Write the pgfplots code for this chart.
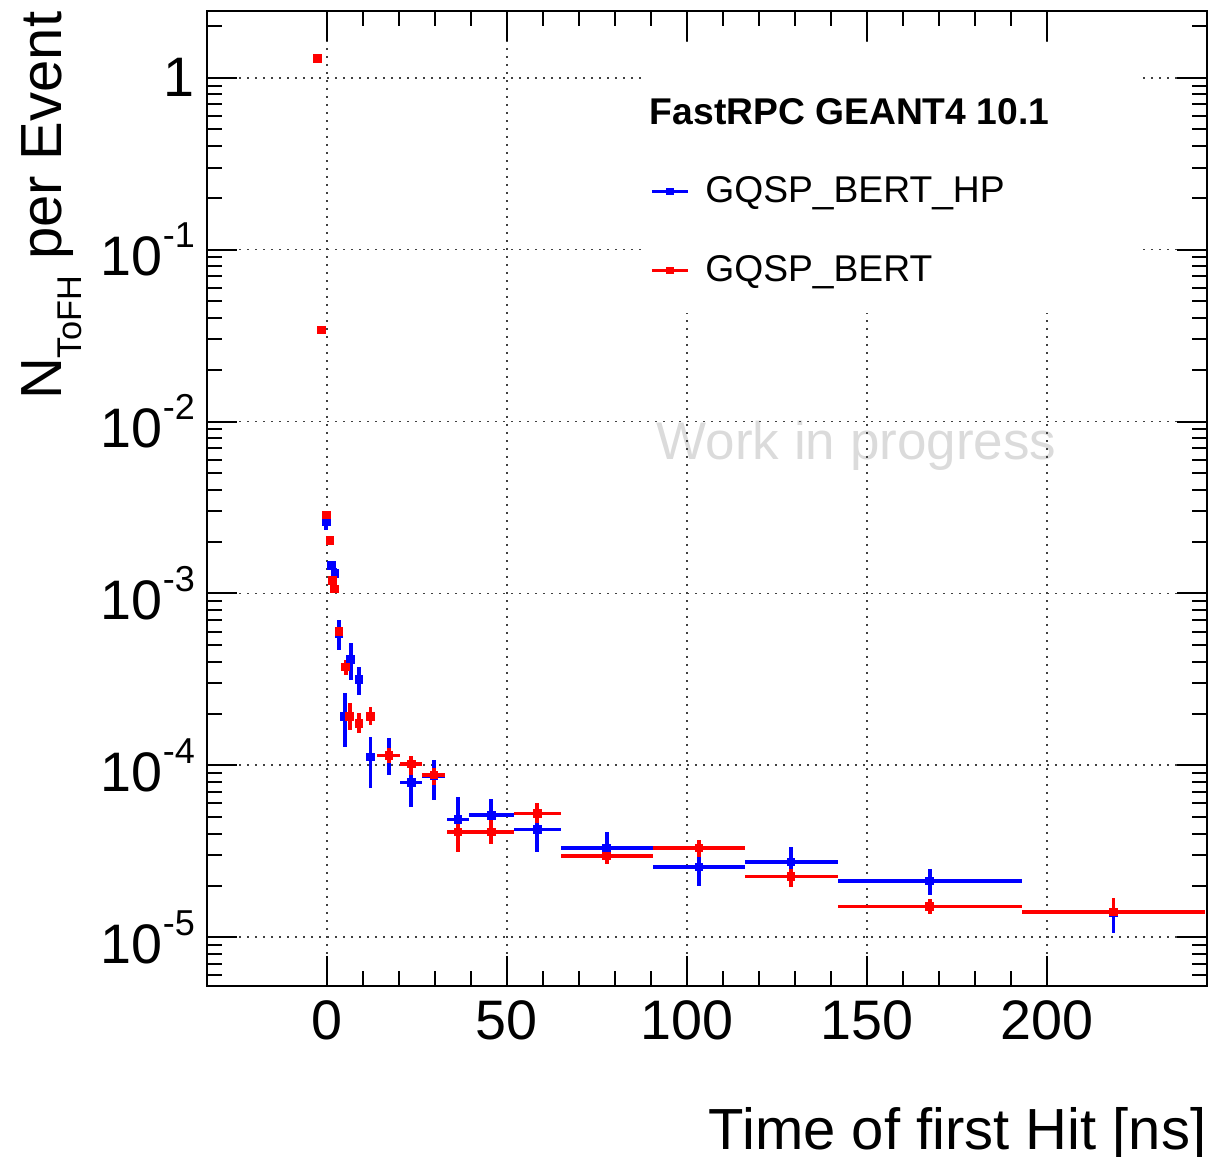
\documentclass[border=0pt]{standalone}
\usepackage{fontspec}
\setmainfont{Liberation Sans}
\usepackage{pgfplots}
\pgfplotsset{compat=1.18}
\usepackage{pgfplotstable}

\definecolor{rootblue}{RGB}{0,0,255}
\definecolor{rootred}{RGB}{255,0,0}

% Time of first hit per event: x = bin centre [ns], y = N per event,
% xlo/xhi = half bin widths, ylo/yhi = statistical errors
\pgfplotstableread{
x      y        xlo   xhi   ylo      yhi
-0.1   2.61e-3  0     0     0.27e-3  0.29e-3
1.4    1.45e-3  0     0     0.08e-3  0.09e-3
2.3    1.30e-3  0     0     0.09e-3  0.10e-3
3.4    5.86e-4  0     0     1.17e-4  1.14e-4
5.0    1.93e-4  0     0     0.65e-4  0.70e-4
6.7    4.13e-4  0     0     1.00e-4  1.02e-4
9.0    3.16e-4  0     0     0.60e-4  0.58e-4
12.2   1.12e-4  0     0     0.38e-4  0.35e-4
17.3   1.14e-4  3.2   3.1   0.26e-4  0.30e-4
23.5   7.95e-5  3.0   3.1   2.21e-5  2.65e-5
29.8   8.65e-5  3.2   3.2   2.37e-5  2.05e-5
36.5   4.84e-5  3.0   3.0   1.63e-5  1.72e-5
45.7   5.13e-5  6.2   6.3   0.93e-5  1.27e-5
58.5   4.23e-5  6.5   6.5   1.09e-5  1.41e-5
77.8   3.31e-5  12.8  12.7  0.61e-5  0.78e-5
103.4  2.56e-5  12.9  12.8  0.58e-5  0.38e-5
129.0  2.74e-5  12.8  13.0  0.50e-5  0.62e-5
167.5  2.12e-5  25.5  25.5  0.36e-5  0.39e-5
218.5  1.39e-5  25.5  25.5  0.33e-5  0.30e-5
}\bertHP

\pgfplotstableread{
x      y        xlo   xhi   ylo      yhi
-2.5   1.29     0     0     0        0
-1.5   0.034    0     0     0        0
-0.1   2.86e-3  0     0     0.05e-3  0.05e-3
0.9    2.03e-3  0     0     0.04e-3  0.04e-3
1.6    1.19e-3  0     0     0.04e-3  0.04e-3
2.2    1.06e-3  0     0     0.05e-3  0.05e-3
3.4    5.98e-4  0     0     0.48e-4  0.42e-4
5.3    3.74e-4  0     0     0.39e-4  0.35e-4
6.4    1.93e-4  0     0     0.33e-4  0.37e-4
9.0    1.75e-4  0     0     0.21e-4  0.26e-4
12.2   1.92e-4  0     0     0.21e-4  0.26e-4
17.3   1.14e-4  3.2   3.1   0.11e-4  0.12e-4
23.5   1.02e-4  3.0   3.1   0.14e-4  0.11e-4
29.8   8.77e-5  3.2   3.2   1.07e-5  0.83e-5
36.5   4.10e-5  3.0   3.0   0.96e-5  0.70e-5
45.7   4.10e-5  6.2   6.3   0.59e-5  0.70e-5
58.5   5.25e-5  6.5   6.5   0.66e-5  0.75e-5
77.8   2.97e-5  12.8  12.7  0.29e-5  0.31e-5
103.4  3.31e-5  12.9  12.8  0.37e-5  0.36e-5
129.0  2.26e-5  12.8  13.0  0.30e-5  0.25e-5
167.5  1.51e-5  25.5  25.5  0.15e-5  0.17e-5
218.5  1.40e-5  25.5  25.5  0.09e-5  0.29e-5
}\bert

\newcommand\tickfont{\fontsize{16.7}{18}\selectfont}
\newcommand\labfont{\fontsize{17.4}{19}\selectfont}
\newcommand\pw[1]{10\raisebox{0.5em}{\fontsize{10.8}{11}\selectfont -#1}}

\pgfplotsset{
  histpoints/.style={
    only marks, mark=square*, mark size=1.1pt,
    error bars/.cd,
      x dir=both, x explicit, y dir=both, y explicit,
      error mark=none,
      error bar style={line width=1.1pt, solid},
    /pgfplots/.cd,
  },
}

\begin{document}
\begin{tikzpicture}
\begin{axis}[
  set layers,
  scale only axis, width=299.85pt, height=292.4pt,
  xmin=-33.1, xmax=244.5,
  ymode=log, ymin=5.23e-6, ymax=2.443,
  xtick={0,50,100,150,200}, minor x tick num=4,
  ytick={1e-5,1e-4,1e-3,1e-2,1e-1,1},
  yticklabels={\pw{5},\pw{4},\pw{3},\pw{2},\pw{1},1},
  minor ytick={6e-6,7e-6,8e-6,9e-6,
    2e-5,3e-5,4e-5,5e-5,6e-5,7e-5,8e-5,9e-5,
    2e-4,3e-4,4e-4,5e-4,6e-4,7e-4,8e-4,9e-4,
    2e-3,3e-3,4e-3,5e-3,6e-3,7e-3,8e-3,9e-3,
    2e-2,3e-2,4e-2,5e-2,6e-2,7e-2,8e-2,9e-2,
    0.2,0.3,0.4,0.5,0.6,0.7,0.8,0.9,2},
  tick align=inside, tick pos=both,
  major tick length=9pt, minor tick length=4.5pt,
  every tick/.style={black, line width=0.6pt},
  axis line style={black, line width=0.6pt},
  grid=major,
  major grid style={dotted, black!75, line width=0.5pt},
  tick label style={font=\tickfont},
  /pgf/number format/assume math mode=true,
  xticklabel style={inner sep=0pt, yshift=-4.3pt},
  yticklabel style={inner sep=0pt, xshift=-3.6pt},
  xlabel={Time of first Hit [ns]},
  ylabel={N\raisebox{-6pt}{\fontsize{10.3}{11}\selectfont ToFH} per Event},
  every axis x label/.style={at={(rel axis cs:1,-0.1686)}, anchor=base east, inner sep=0pt, font=\labfont},
  every axis y label/.style={at={(rel axis cs:-0.1461,1)}, rotate=90, anchor=base east, inner sep=0pt, font=\labfont},
  legend style={
    at={(0.4424,0.8318)}, anchor=north west,
    draw=none, fill=none, inner sep=0pt,
    row sep=13.3pt, column sep=4.8pt,
    nodes={inner sep=0pt, text height=8pt, text depth=2.5pt, anchor=base west},
    font=\fontsize{11.17}{13}\selectfont,
  },
  legend cell align=left,
  legend image code/.code={
    \draw[#1, line width=0.9pt] (0pt,3.3pt) -- (10.8pt,3.3pt);
    \draw[#1] plot[only marks, mark size=0.9pt] coordinates {(5.4pt,3.3pt)};
  },
]

% watermark sits underneath the grid
\begin{pgfonlayer}{axis background}
  \node[anchor=base west, text=black!14, font=\fontsize{15.9}{17}\selectfont, inner sep=0pt]
    at (axis cs:91.5,5.98e-3) {Work in progress};
\end{pgfonlayer}

\addplot[rootblue, forget plot, histpoints]
  table[x=x, y=y, x error minus=xlo, x error plus=xhi, y error minus=ylo, y error plus=yhi] {\bertHP};
\addplot[rootred, forget plot, histpoints]
  table[x=x, y=y, x error minus=xlo, x error plus=xhi, y error minus=ylo, y error plus=yhi] {\bert};

% legend panel
\fill[white] (axis cs:87.3,1.55) rectangle (axis cs:225.9,0.0429);
\node[anchor=base west, inner sep=0pt, font=\bfseries\fontsize{11.17}{13}\selectfont]
  at (axis cs:89.6,0.5325) {FastRPC GEANT4 10.1};

\addlegendimage{rootblue, mark=square*}
\addlegendentry{GQSP\_BERT\_HP}
\addlegendimage{rootred, mark=square*}
\addlegendentry{GQSP\_BERT}

\end{axis}
\pgfresetboundingbox
\path[use as bounding box]
  ([shift={(-62.25pt,-51.4pt)}]current axis.south west)
  rectangle ([shift={(0.6pt,3.3pt)}]current axis.north east);
\end{tikzpicture}
\end{document}
